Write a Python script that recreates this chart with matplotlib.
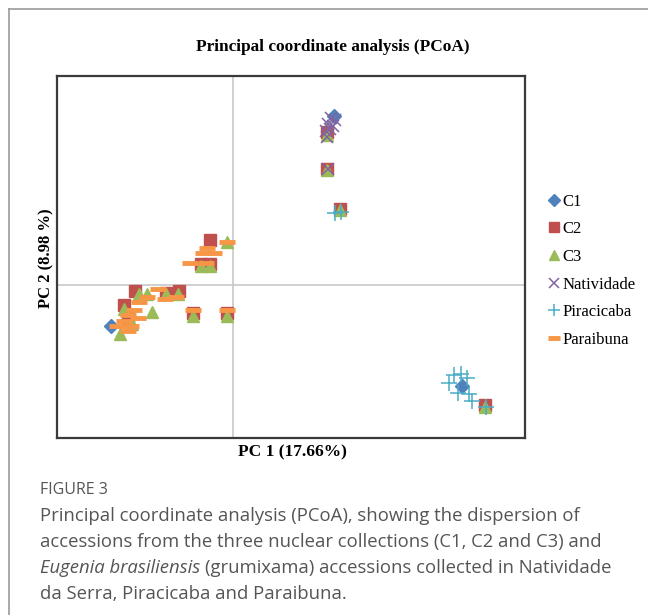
import matplotlib
matplotlib.use("Agg")
import matplotlib.pyplot as plt
from matplotlib.lines import Line2D

# ======================================
# DATA (PCoA coordinates)
# ======================================

c1_x = [0.174, 0.393, -0.207]
c1_y = [0.274, -0.166, -0.068]

c2_x = [0.162, 0.162, 0.183, 0.432, -0.038, -0.053, -0.039, -0.166, -0.113,
        -0.092, -0.186, -0.067, -0.010, -0.179]
c2_y = [0.249, 0.189, 0.124, -0.197, 0.072, 0.034, 0.034, -0.010, -0.013,
        -0.011, -0.034, -0.047, -0.047, -0.055]

c3_x = [0.162, 0.162, 0.183, 0.432, -0.009, -0.053, -0.038, -0.160, -0.147,
        -0.114, -0.094, -0.185, -0.137, -0.067, -0.010, -0.171, -0.193]
c3_y = [0.244, 0.187, 0.122, -0.199, 0.070, 0.031, 0.031, -0.016, -0.016,
        -0.016, -0.015, -0.039, -0.044, -0.051, -0.051, -0.064, -0.080]

nat_x = [0.169, 0.176, 0.164, 0.171, 0.159, 0.166, 0.162, 0.164]
nat_y = [0.271, 0.269, 0.261, 0.259, 0.251, 0.254, 0.241, 0.189]

pir_x = [0.379, 0.391, 0.370, 0.400, 0.386, 0.405, 0.410, 0.434, 0.176, 0.185]
pir_y = [-0.148, -0.145, -0.161, -0.153, -0.176, -0.178, -0.189, -0.200, 0.117, 0.119]

par_x = [-0.009, -0.043, -0.051, -0.032, -0.072, -0.046, -0.128, -0.147, -0.116,
         -0.097, -0.159, -0.169, -0.179, -0.162, -0.186, -0.174, -0.197, -0.179,
         -0.068, -0.010]
par_y = [0.070, 0.060, 0.051, 0.051, 0.036, 0.036, -0.007, -0.020, -0.024,
         -0.020, -0.029, -0.042, -0.049, -0.055, -0.060, -0.067, -0.068, -0.075,
         -0.042, -0.042]

labels = ["C1", "C2", "C3", "Natividade", "Piracicaba", "Paraibuna"]

W, H = 648, 615

fig = plt.figure(figsize=(W / 100, H / 100), dpi=100)

# outer panel border
fig.add_artist(Line2D([9 / W, 9 / W], [0, 1 - 9 / H], color="#9a9a9a", lw=1.2))
fig.add_artist(Line2D([9 / W, 1], [1 - 9 / H, 1 - 9 / H], color="#9a9a9a", lw=1.2))

ax = fig.add_axes([57 / W, (H - 438) / H, 468 / W, 362 / H])
ax.set_xlim(-0.3, 0.5)
ax.set_ylim(-0.25, 0.34)
ax.axvline(0, color="#c8c8c8", lw=1.2, zorder=0)
ax.axhline(0, color="#c8c8c8", lw=1.2, zorder=0)
ax.set_xticks([])
ax.set_yticks([])
for s in ax.spines.values():
    s.set_color("#3a3a3a")
    s.set_linewidth(1.6)

ax.plot(c1_x, c1_y, ls="none", marker="D", ms=7.5, color="#4F81BD", label=labels[0])
ax.plot(c2_x, c2_y, ls="none", marker="s", ms=8.5, color="#C0504D", label=labels[1])
ax.plot(c3_x, c3_y, ls="none", marker="^", ms=9, color="#9BBB59", label=labels[2])
ax.plot(nat_x, nat_y, ls="none", marker="x", ms=9, mew=1.1, color="#8064A2", label=labels[3])
ax.plot(pir_x, pir_y, ls="none", marker="+", ms=11, mew=1.1, color="#4BACC6", label=labels[4])
ax.plot(par_x, par_y, ls="none", marker="_", ms=11, mew=3.5, color="#F79646", label=labels[5])

serif = ["Liberation Serif", "DejaVu Serif"]

fig.text(333 / W, 1 - 47 / H, "Principal coordinate analysis (PCoA)", family=serif,
         fontweight="bold", fontsize=12.4, ha="center", va="center")
fig.text(292 / W, 1 - 452 / H, "PC 1 (17.66%)", family=serif, fontweight="bold",
         fontsize=12.5, ha="center", va="center")
fig.text(46 / W, 1 - 258 / H, "PC 2 (8.98 %)", family=serif, fontweight="bold",
         fontsize=12, ha="center", va="center", rotation=90)

leg = fig.legend(loc="upper left", bbox_to_anchor=(541 / W, 1 - 187 / H), frameon=False,
                 prop={"family": serif, "size": 12}, handlelength=0.7, markerscale=0.8,
                 handletextpad=0.2, labelspacing=0.7, borderaxespad=0)

# caption
grey = "#555555"
cap_font = dict(family="Open Sans", fontsize=13.3, color=grey, va="center")
fig.text(40 / W, 1 - 490 / H, "FIGURE 3", family="Open Sans", fontsize=11.5,
         color=grey, va="center")
fig.text(40 / W, 1 - 516 / H,
         "Principal coordinate analysis (PCoA), showing the dispersion of", **cap_font)
fig.text(40 / W, 1 - 542 / H,
         "accessions from the three nuclear collections (C1, C2 and C3) and", **cap_font)
t_it = fig.text(40 / W, 1 - 568 / H, "Eugenia brasiliensis", style="italic", **cap_font)
fig.text(40 / W, 1 - 594 / H, "da Serra, Piracicaba and Paraibuna.", **cap_font)

r = fig.canvas.get_renderer()
bb = t_it.get_window_extent(r)
fig.text(bb.x1 / W + 5 / W, 1 - 568 / H,
         "(grumixama) accessions collected in Natividade", **cap_font)

fig.savefig("out.png", dpi=100)
